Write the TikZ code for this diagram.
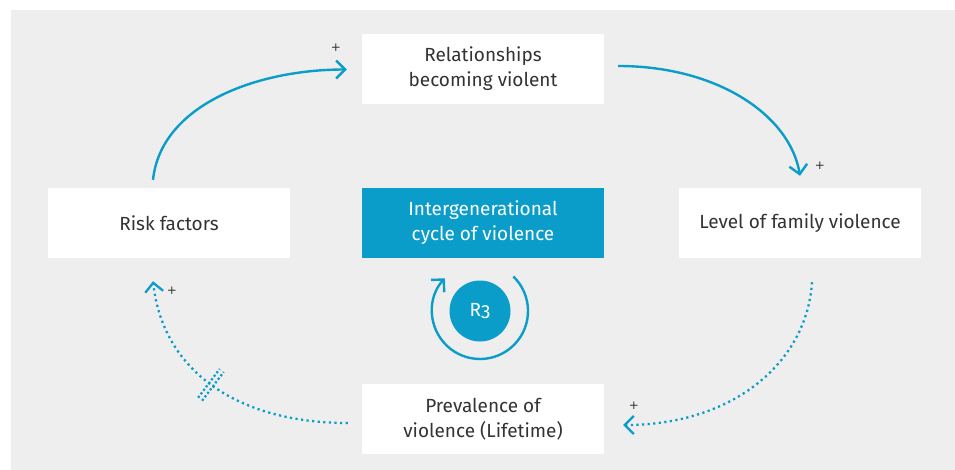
\documentclass[tikz,border=0pt]{standalone}
\usepackage{fontspec}
\setmainfont{Fira Sans}
\newfontfamily\plusfont{DejaVu Sans}
\usetikzlibrary{arrows.meta}
\definecolor{cblue}{HTML}{0A9DC9}
\definecolor{bgc}{HTML}{EEEEEE}
\definecolor{txt}{HTML}{333333}
\begin{document}
\begin{tikzpicture}[x=1pt,y=-1pt,
  box/.style={fill=white, minimum width=242pt, minimum height=70pt, inner sep=0pt,
    align=center, font=\fontsize{19}{25}\selectfont, text=txt},
  tip/.style={-{Straight Barb[length=9pt,width=18pt]}},
  link/.style={draw=cblue, line width=2.4pt, tip},
  dotlink/.style={draw=cblue, line width=2.3pt, dash pattern=on 2.2pt off 3.4pt, tip},
  plus/.style={text=txt, font=\plusfont\fontsize{12}{12}\selectfont, inner sep=0pt}]
\useasboundingbox (0,0) rectangle (955,470);
\fill[bgc] (11,10) rectangle (955,470);

\node[box] (rel) at (483,69) {Relationships\\becoming violent};
\node[box] (risk) at (169,223) {Risk factors};
\node[box, fill=cblue, text=white] (cyc) at (483,223) {Intergenerational\\cycle of violence};
\node[box] (lev) at (800,223) {Level of family violence};
\node[box] (prev) at (483,419) {Prevalence of\\violence (Lifetime)};

\node[circle, fill=cblue, minimum size=61pt, inner sep=0pt, text=white,
  font=\fontsize{19}{19}\selectfont\addfontfeatures{Numbers=OldStyle}] (r3) at (480,311) {R3};
\draw[cblue, line width=2.4pt, tip] (r3) ++(-46:48) arc[start angle=-46, end angle=223, radius=48];

\draw[link] ([shift={(-16,-8)}]risk.north) .. controls +(8,-75) and +(-90,0) .. ([shift={(-15,0.5)}]rel.west);
\draw[link] ([shift={(14,-3)}]rel.east) .. controls +(100,0) and +(-10,-60) .. ([shift={(0,-12)}]lev.north);
\draw[dotlink] ([shift={(12,24)}]lev.south) .. controls +(-5,80) and +(110,0) .. ([shift={(19,6)}]prev.east);
\draw[dotlink] ([shift={(-14,4)}]prev.west) .. controls +(-110,0) and +(10,90) .. coordinate[pos=0.5] (dm) ([shift={(-16,23)}]risk.south);

\draw[draw=cblue, line width=2.2pt, dash pattern=on 2.2pt off 2.2pt]
  ([shift={(-14.8,11.9)}]dm) -- ([shift={(6.8,-16.9)}]dm)
  ([shift={(-10.8,14.9)}]dm) -- ([shift={(10.8,-13.9)}]dm);

\node[plus] (p1) at (336,48) {+};
\node[plus] (p2) at (820,166) {+};
\node[plus] (p3) at (634,406) {+};
\node[plus] (p4) at (172,291) {+};
\end{tikzpicture}
\end{document}
